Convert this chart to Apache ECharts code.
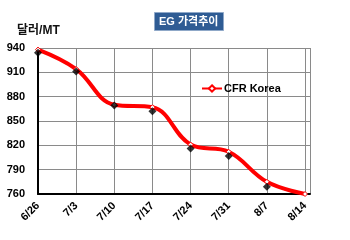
<!DOCTYPE html>
<html><head><meta charset="utf-8">
<script src="https://cdn.jsdelivr.net/npm/echarts@6/dist/echarts.min.js"></script>
<style>html,body{margin:0;padding:0;background:#fff}#c{width:350px;height:240px}</style>
</head><body><div id="c"></div>
<script>
const categories = ['6/26','7/3','7/10','7/17','7/24','7/31','8/7','8/14'];
const lineValues = [938, 914, 870, 867, 821, 812, 775, 760];
const markerValues = [934, 911, 869, 862, 816, 807, 769, 757];
const yTicks = [760, 790, 820, 850, 880, 910, 940];
const seriesName = 'CFR Korea';
const titleText = 'EG 가격추이';
const unitText = '달러/MT';

const chart = echarts.init(document.getElementById('c'));
const font = 'Arial, "Liberation Sans", "Noto Sans CJK KR", sans-serif';
chart.setOption({
  animation: false,
  title: [{
    text: titleText, left: 154, top: 12,
    padding: [4, 5, 4, 5],
    backgroundColor: '#2F5C94',
    borderColor: '#8fa8c8', borderWidth: 1,
    textStyle: {color: '#fff', fontSize: 11, fontWeight: 'bold', fontFamily: font}
  }, {
    text: unitText, left: 12, top: 20,
    textStyle: {color: '#111', fontSize: 12, fontWeight: 'bold', fontFamily: font}
  }],
  legend: {
    data: [seriesName], left: 196, top: 78,
    itemWidth: 20, itemHeight: 8, itemGap: 2,
    textStyle: {color: '#000', fontSize: 11, fontWeight: 'bold', fontFamily: font, padding: [0,0,0,-3]}
  },
  grid: {left: 38, right: 40, top: 48, bottom: 46, containLabel: false},
  xAxis: {
    type: 'value', min: 0, max: 7.13, interval: 1,
    axisLine: {show: true, onZero: false, lineStyle: {color: '#000', width: 2}},
    axisTick: {show: false},
    splitLine: {show: true, lineStyle: {color: '#8a8a8a', width: 1}},
    axisLabel: {
      rotate: 45, margin: 10, color: '#000', fontSize: 11, fontWeight: 'bold', fontFamily: font,
      showMaxLabel: true,
      formatter: v => (Math.abs(v - Math.round(v)) < 1e-6 ? categories[Math.round(v)] : '')
    }
  },
  yAxis: {
    type: 'value', min: yTicks[0], max: yTicks[yTicks.length - 1], interval: 30,
    axisLine: {show: true, lineStyle: {color: '#000', width: 2}},
    axisTick: {show: false},
    splitLine: {show: true, lineStyle: {color: '#8a8a8a', width: 1}},
    axisLabel: {margin: 13, color: '#000', fontSize: 11, fontWeight: 'bold', fontFamily: font}
  },
  series: [{
    name: 'markers', type: 'scatter', symbol: 'diamond', symbolSize: 8,
    itemStyle: {color: '#000'}, z: 3,
    data: markerValues.map((v, i) => [i, v])
  }, {
    name: seriesName, type: 'line', smooth: 0.4,
    symbol: 'diamond', symbolSize: 5, showSymbol: true,
    lineStyle: {color: '#FF0000', width: 4},
    itemStyle: {color: '#fff', borderColor: '#FF0000', borderWidth: 1},
    z: 2,
    data: lineValues.map((v, i) => [i, v])
  }]
});
</script></body></html>
